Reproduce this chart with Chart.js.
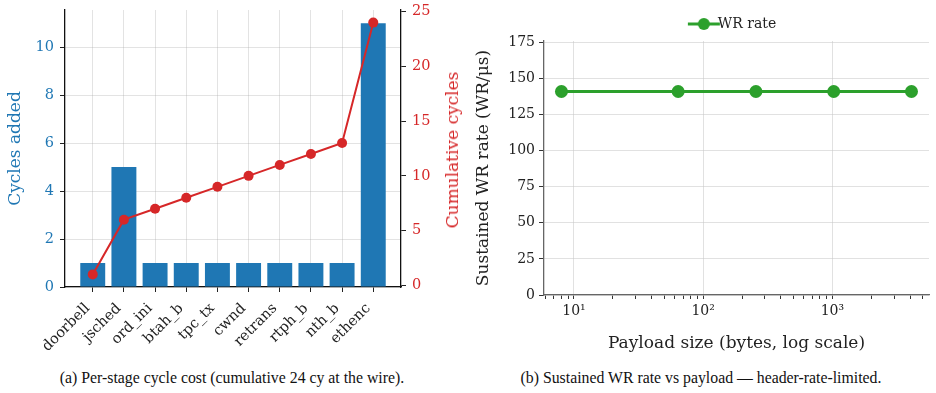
<!DOCTYPE html>
<html><head><meta charset="utf-8">
<script src="https://cdn.jsdelivr.net/npm/chart.js@4.4.1/dist/chart.umd.min.js"></script>
<style>
html,body{margin:0;padding:0;background:#fff;width:936px;height:393px;overflow:hidden;position:relative}
canvas{position:absolute;top:0}
.cap{position:absolute;top:369px;line-height:18px;font-family:"Liberation Serif",serif;font-size:15.8px;color:#111;white-space:nowrap;transform:translateX(-50%)}
.rt{position:absolute;font-family:"DejaVu Serif",serif;font-size:17px;line-height:20px;white-space:nowrap;transform:translate(-50%,-50%) rotate(-90deg)}
</style></head><body>
<canvas id="c1" width="465" height="360" style="left:0"></canvas>
<canvas id="c2" width="471" height="358" style="left:465px"></canvas>
<div class="rt" id="y2title" style="left:452px;top:150px;color:#d62728">Cumulative cycles</div>
<div class="cap" style="left:232px">(a) Per-stage cycle cost (cumulative 24 cy at the wire).</div>
<div class="cap" style="left:701px">(b) Sustained WR rate vs payload — header-rate-limited.</div>
<script>
// ---- data (a)
const stages = ["doorbell","jsched","ord_ini","btah_b","tpc_tx","cwnd","retrans","rtph_b","nth_b","ethenc"];
const cyclesAdded = [1,5,1,1,1,1,1,1,1,11];
const cumulative = [1,6,7,8,9,10,11,12,13,24];
const leftTicks = [0,2,4,6,8,10];
const rightTicks = [0,5,10,15,20,25];
// ---- data (b)
const payloads = [8,64,256,1024,4096];
const wrRate = [141,141,141,141,141];
const rateTicks = [0,25,50,75,100,125,150,175];
const logMajor = [10,100,1000];
const logMinor = [6,7,8,9,20,30,40,50,60,70,80,90,200,300,400,500,600,700,800,900,2000,3000,4000,5000];

const SERIF = '"DejaVu Serif", serif';
const BLUE = '#1f77b4', RED = '#d62728', GREEN = '#2ca02c';
const GRID = 'rgba(176,176,176,0.35)';
const noVPad = s => { s.paddingTop = 0; s.paddingBottom = 0; };

new Chart(document.getElementById('c1'), {
  data: {
    datasets: [
      {type:'line', data: stages.map((s,i)=>({x:i,y:cumulative[i]})), yAxisID:'y2',
       borderColor:RED, backgroundColor:RED, borderWidth:2, pointRadius:5, pointBackgroundColor:RED, pointBorderWidth:0, order:0},
      {type:'bar', data: stages.map((s,i)=>({x:i,y:cyclesAdded[i]})), yAxisID:'y',
       backgroundColor:BLUE, barPercentage:0.8, categoryPercentage:1.0, order:1}
    ]
  },
  options: {
    responsive:false, animation:false,
    layout:{padding:{top:10,left:0,right:0,bottom:0}},
    plugins:{legend:{display:false}, tooltip:{enabled:false}},
    scales:{
      x:{type:'linear', min:-0.89, max:9.89, offset:false, z:1,
         afterBuildTicks: s => { s.ticks = stages.map((c,i)=>({value:i})); },
         afterFit: s => { s.height = 73; },
         ticks:{callback:(v)=>stages[v], maxRotation:45, minRotation:45, autoSkip:false, color:'#222', font:{family:SERIF,size:14.5}, padding:8, labelOffset:-5},
         grid:{color:GRID, tickColor:'#222', tickLength:5, lineWidth:1, offset:false},
         border:{color:'#111', width:1.3}},
      y:{position:'left', min:0, max:11.55, z:1,
         afterBuildTicks: s => { s.ticks = leftTicks.map(v=>({value:v})); },
         afterFit: s => { s.width = 65; noVPad(s); },
         ticks:{color:BLUE, font:{family:SERIF,size:14.5}, padding:6},
         grid:{color:GRID, tickColor:'#222', tickLength:5},
         border:{color:'#111', width:1.3},
         title:{display:true, text:'Cycles added', color:BLUE, font:{family:SERIF,size:17}, padding:{top:5,bottom:4}}},
      y2:{position:'right', min:-0.15, max:25.15,
         afterBuildTicks: s => { s.ticks = rightTicks.map(v=>({value:v})); },
         afterFit: s => { s.width = 64; noVPad(s); },
         ticks:{color:RED, font:{family:SERIF,size:14.5}, padding:6},
         grid:{drawOnChartArea:false, tickColor:'#222', tickLength:5},
         border:{color:'#111', width:1.3}}
    }
  }
});

// legend marker: line + circle
const lg = document.createElement('canvas'); lg.width=34; lg.height=16;
(function(){const g=lg.getContext('2d'); g.strokeStyle=GREEN; g.lineWidth=3; g.beginPath(); g.moveTo(1,8); g.lineTo(33,8); g.stroke();
 g.fillStyle=GREEN; g.beginPath(); g.arc(17,8,6,0,Math.PI*2); g.fill();})();

new Chart(document.getElementById('c2'), {
  type:'line',
  data:{datasets:[{label:'WR rate', data: payloads.map((p,i)=>({x:p,y:wrRate[i]})),
    borderColor:GREEN, backgroundColor:GREEN, borderWidth:3, pointRadius:6.5, pointBorderWidth:0, pointBackgroundColor:GREEN}]},
  options:{
    responsive:false, animation:false,
    layout:{padding:{top:7,right:7,left:0,bottom:0}},
    plugins:{tooltip:{enabled:false},
      legend:{display:true, position:'top', fullSize:false,
        labels:{usePointStyle:true, pointStyle:lg, color:'#222', font:{family:SERIF,size:14}, padding:10}}},
    scales:{
      x:{type:'logarithmic', min:5.86, max:5597,
         afterBuildTicks: s => { s.ticks = logMajor.concat(logMinor).sort((a,b)=>a-b).map(v=>({value:v, major: logMajor.includes(v)})); },
         afterFit: s => { s.height = 63; },
         ticks:{autoSkip:false, maxRotation:0, color:'#222', font:{family:SERIF,size:14}, padding:4,
           callback:(v)=>{ const m={10:'10¹',100:'10²',1000:'10³'}; return m[v]||''; }},
         grid:{color:(c)=> (c.tick && logMajor.includes(c.tick.value)) ? 'rgba(200,200,200,0.55)' : 'rgba(0,0,0,0)',
               tickColor:'#333', tickLength:4},
         border:{color:'#666', width:1.3},
         title:{display:true, text:'Payload size (bytes, log scale)', color:'#222', font:{family:SERIF,size:17}, padding:{top:0,bottom:4}}},
      y:{min:0, max:176,
         afterBuildTicks: s => { s.ticks = rateTicks.map(v=>({value:v})); },
         afterFit: s => { s.width = 79; noVPad(s); },
         ticks:{color:'#222', font:{family:SERIF,size:14}, padding:4},
         grid:{color:'rgba(200,200,200,0.55)', tickColor:'#333', tickLength:5},
         border:{color:'#666', width:1.3},
         title:{display:true, text:'Sustained WR rate (WR/μs)', color:'#222', font:{family:SERIF,size:17}, padding:{top:8,bottom:2}}}
    }
  }
});
</script>
</body></html>
